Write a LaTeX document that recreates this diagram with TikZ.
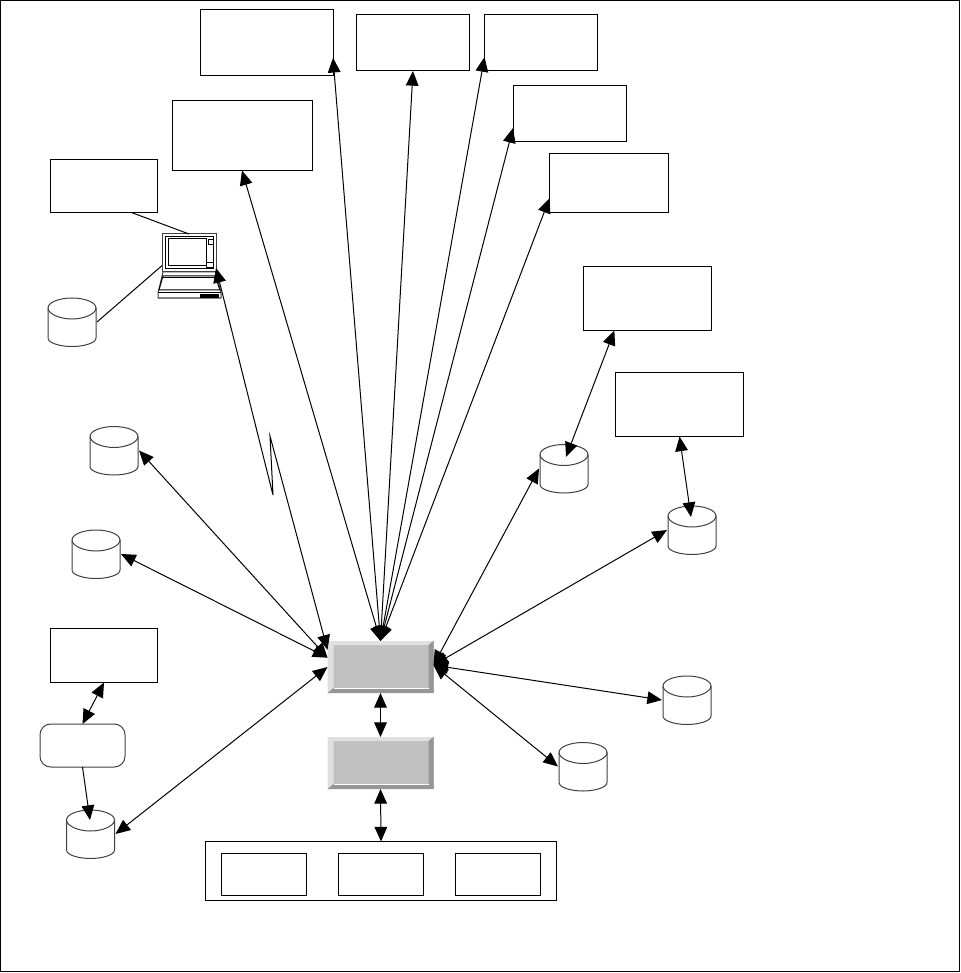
\documentclass[tikz,border=0pt]{standalone}
\usepackage{tikz}
\usetikzlibrary{arrows.meta}
\newcommand{\px}{0.75pt}
\definecolor{hubfill}{HTML}{C0C0C0}
\definecolor{hublight}{HTML}{E0E0E0}
\definecolor{hubdark}{HTML}{969696}
\definecolor{drumline}{HTML}{404040}
\tikzset{
  sized/.style 2 args={minimum width=#1*\px,minimum height=#2*\px,inner sep=0pt,outer sep=0pt},
  plainbox/.style 2 args={draw,line width=\px,sized={#1}{#2}},
  drum/.style={sized={50}{51},path picture={
    \draw[drumline,line width=\px,shift={(path picture bounding box.center)}]
      (-24,-14) .. controls (-24,-20) and (-12,-24) .. (0,-24) .. controls (12,-24) and (24,-20) .. (24,-14)
      -- (24,16) .. controls (24,21) and (12,24.5) .. (0,24.5) .. controls (-12,24.5) and (-24,21) .. (-24,16) -- cycle;
    \draw[drumline,line width=\px,shift={(path picture bounding box.center)}]
      (-24,-14) .. controls (-24,-8) and (-12,-3) .. (0,-3) .. controls (12,-3) and (24,-8) .. (24,-14);}},
  hubbox/.style={sized={106}{52},fill=hubfill,path picture={
    \fill[hublight] (path picture bounding box.north west) -- (path picture bounding box.north east)
      -- ++(-5*\px,-4*\px) -- ++(-95*\px,0pt) -- ++(0pt,-43*\px) -- (path picture bounding box.south west) -- cycle;
    \fill[hubdark] (path picture bounding box.south east) -- (path picture bounding box.north east)
      -- ++(-5*\px,-4*\px) -- ++(0pt,-43*\px) -- ++(-95*\px,0pt) -- (path picture bounding box.south west) -- cycle;
    \draw[white,line width=\px] ([shift={(6*\px,5*\px)}]path picture bounding box.south west) -- ++(95*\px,0pt);}},
  link/.style={line width=\px},
  both/.style={line width=\px,{Triangle[length=11pt,width=9.5pt]}-{Triangle[length=11pt,width=9.5pt]}},
  tohead/.style={line width=\px,-{Triangle[length=11pt,width=9.5pt]}}
}
\begin{document}
\begin{tikzpicture}[x=\px,y=-\px]
        \useasboundingbox (0,0) rectangle (960,973);
        \node[draw,line width=\px,sized={959}{971}] (Frame) at (480,486) {};
        \node[plainbox={133}{66}] (A1) at (266.5,42.5) {};
        \node[plainbox={140}{70}] (A2) at (242,135.5) {};
        \node[plainbox={113}{56}] (A3) at (413,43) {};
        \node[plainbox={113}{56}] (A4) at (541,43) {};
        \node[plainbox={113}{56}] (A5) at (569.5,114) {};
        \node[plainbox={119}{59}] (A6) at (609,183.5) {};
        \node[plainbox={128}{64}] (A7) at (647.5,298.5) {};
        \node[plainbox={128}{64}] (A8) at (679.5,404.5) {};
        \node[plainbox={107}{53}] (B1) at (104,186) {};
        \node[plainbox={107}{54}] (B2) at (104,655.5) {};
        \node[draw=drumline,line width=\px,rounded corners=8pt,sized={85}{43}] (B3) at (82.5,745.5) {};
        \node[drum] (C1) at (72,322) {};
        \node[drum] (C2) at (114,450.5) {};
        \node[drum] (C3) at (96,554) {};
        \node[drum] (C4) at (90.5,834) {};
        \node[drum] (C5) at (564,468.5) {};
        \node[drum] (C6) at (692,530) {};
        \node[drum] (C7) at (687,700) {};
        \node[drum] (C8) at (583,766.5) {};
        \node[hubbox] (H1) at (380.5,667) {};
        \node[hubbox] (H2) at (380.5,763) {};
        \node[plainbox={351}{59}] (D0) at (381,871) {};
        \node[plainbox={85}{42}] (D1) at (263.5,874) {};
        \node[plainbox={85}{42}] (D2) at (380.5,874) {};
        \node[plainbox={85}{42}] (D3) at (497.5,874) {};
        \node[sized={54}{38}] (L) at (189,253) {};
        \draw[drumline,line width=\px,fill=white] (163,272) -- (158,293) -- (158,298) -- (221,298) -- (221,293) -- (216,272) -- cycle;
        \draw[line width=\px,fill=white] (163,276) -- (215,276) -- (220,290) -- (159,290) -- cycle;
        \draw[line width=\px] (162,278) -- (216,278);
        \draw[line width=\px] (158,293) -- (221,293);
        \fill (200,294) rectangle (219,298);
        \draw[drumline,line width=\px,fill=white] (162,234) rectangle (216,272);
        \draw[line width=\px] (165,237) rectangle (213,269);
        \draw[line width=\px] (168,239) rectangle (206,266);
        \draw[line width=0.5*\px] (208,239) rectangle (213,244);
        \draw[line width=0.5*\px] (206,262) rectangle (213,267);
        \coordinate (T4) at (90,820);
        \coordinate (T5) at (566,457);
        \coordinate (T6) at (691,517);
        \coordinate (Z1) at (273,495);
        \coordinate (Z2) at (270,436);
        \draw[link] (B1.-44) to (L.north);
        \draw[link] (C1.east) to (L.205);
        \draw[both] (H1.north) to (A1.-13);
        \draw[both] (H1.north) to (A2.south);
        \draw[both] (H1.north) to (A3.south);
        \draw[both] (H1.north) to (A4.194.5);
        \draw[both] (H1.north) to (A5.194);
        \draw[both] (H1.north) to (A6.194);
        \draw[both] (L.-29) -- (Z1) -- (Z2) -- (H1.162);
        \draw[both] (H1.170) to (C2.east);
        \draw[both] (H1.170) to (C3.east);
        \draw[both] (H1.west) to (C4.east);
        \draw[both] (H1.2) to (C5.west);
        \draw[both] (H1.2) to (C6.west);
        \draw[both] (H1.2) to (C7.west);
        \draw[both] (H1.2) to (C8.west);
        \draw[both] (T5) to (A7.224);
        \draw[both] (T6) to (A8.south);
        \draw[both] (B2.south) to (B3.north);
        \draw[tohead] (B3.south) to (T4);
        \draw[both] (H1.south) to (H2.north);
        \draw[both] (H2.south) to (D0.north);
      \end{tikzpicture}
\end{document}
